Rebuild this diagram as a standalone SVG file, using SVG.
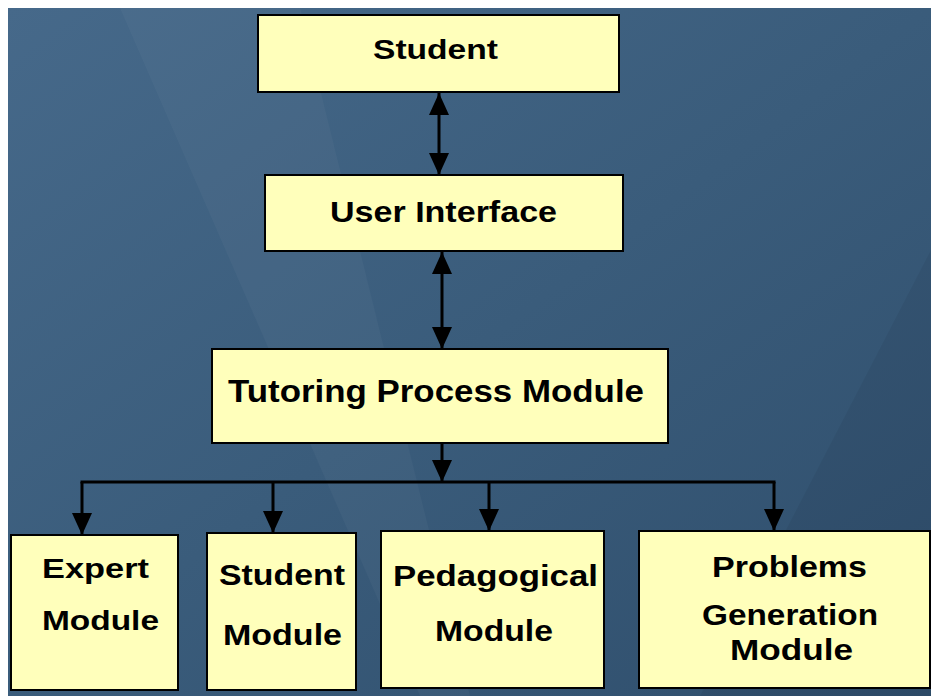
<svg xmlns="http://www.w3.org/2000/svg" width="931" height="696" viewBox="0 0 931 696">
<defs>
  <linearGradient id="bg" x1="0" y1="0" x2="1" y2="1">
    <stop offset="0" stop-color="#46698a"/>
    <stop offset="0.5" stop-color="#3a5c7b"/>
    <stop offset="1" stop-color="#2f4e6c"/>
  </linearGradient>
  <marker id="ah" markerUnits="userSpaceOnUse" markerWidth="22" markerHeight="20" refX="22" refY="10" orient="auto" viewBox="0 0 22 20">
    <path d="M0,0 L22,10 L0,20 Z" fill="#000"/>
  </marker>
  <marker id="ahs" markerUnits="userSpaceOnUse" markerWidth="22" markerHeight="20" refX="0" refY="10" orient="auto" viewBox="0 0 22 20">
    <path d="M22,0 L0,10 L22,20 Z" fill="#000"/>
  </marker>
</defs>
<style>
  .box { fill: #ffffbb; stroke: #000; stroke-width: 2; }
  .t { font-family: "Liberation Sans", Arial, sans-serif; font-weight: bold; fill: #000; }
  .c { stroke: #000; stroke-width: 3; fill: none; }
</style>
<rect x="0" y="0" width="931" height="696" fill="#ffffff"/>
<rect x="8" y="8" width="923" height="688" fill="url(#bg)"/>
<polygon points="120,8 300,8 470,696 420,696" fill="#ffffff" opacity="0.03"/>
<polygon points="931,250 931,696 700,696" fill="#000000" opacity="0.05"/>

<g id="connectors">
  <line class="c" x1="439" y1="93" x2="439" y2="175" marker-start="url(#ahs)" marker-end="url(#ah)"/>
  <line class="c" x1="442" y1="252" x2="442" y2="349" marker-start="url(#ahs)" marker-end="url(#ah)"/>
  <line class="c" x1="442" y1="443" x2="442" y2="482" marker-end="url(#ah)"/>
  <line class="c" x1="80.5" y1="482" x2="775.5" y2="482"/>
  <line class="c" x1="82" y1="482" x2="82" y2="535" marker-end="url(#ah)"/>
  <line class="c" x1="273" y1="482" x2="273" y2="533" marker-end="url(#ah)"/>
  <line class="c" x1="489" y1="482" x2="489" y2="531" marker-end="url(#ah)"/>
  <line class="c" x1="774" y1="482" x2="774" y2="531" marker-end="url(#ah)"/>
</g>

<g id="student">
  <rect class="box" x="258" y="15" width="361" height="77"/>
  <text class="t" x="373" y="59" font-size="28" textLength="125" lengthAdjust="spacingAndGlyphs">Student</text>
</g>
<g id="user-interface">
  <rect class="box" x="265" y="175" width="358" height="76"/>
  <text class="t" x="330" y="222" font-size="30" textLength="227" lengthAdjust="spacingAndGlyphs">User Interface</text>
</g>
<g id="tutoring-process-module">
  <rect class="box" x="212" y="349" width="456" height="94"/>
  <text class="t" x="228" y="402" font-size="32" textLength="416" lengthAdjust="spacingAndGlyphs">Tutoring Process Module</text>
</g>
<g id="expert-module">
  <rect class="box" x="11" y="535" width="167" height="155"/>
  <text class="t" x="42" y="578" font-size="28" textLength="107" lengthAdjust="spacingAndGlyphs">Expert</text>
  <text class="t" x="42" y="630" font-size="28" textLength="117" lengthAdjust="spacingAndGlyphs">Module</text>
</g>
<g id="student-module">
  <rect class="box" x="207" y="533" width="149" height="157"/>
  <text class="t" x="219" y="585" font-size="29" textLength="126" lengthAdjust="spacingAndGlyphs">Student</text>
  <text class="t" x="223" y="645" font-size="29" textLength="119" lengthAdjust="spacingAndGlyphs">Module</text>
</g>
<g id="pedagogical-module">
  <rect class="box" x="381" y="531" width="223" height="157"/>
  <text class="t" x="393" y="586" font-size="30" textLength="205" lengthAdjust="spacingAndGlyphs">Pedagogical</text>
  <text class="t" x="435" y="641" font-size="30" textLength="118" lengthAdjust="spacingAndGlyphs">Module</text>
</g>
<g id="problems-generation-module">
  <rect class="box" x="639" y="531" width="291" height="157"/>
  <text class="t" x="712" y="577" font-size="29" textLength="155" lengthAdjust="spacingAndGlyphs">Problems</text>
  <text class="t" x="702" y="625" font-size="29" textLength="176" lengthAdjust="spacingAndGlyphs">Generation</text>
  <text class="t" x="730" y="660" font-size="29" textLength="123" lengthAdjust="spacingAndGlyphs">Module</text>
</g>
</svg>
